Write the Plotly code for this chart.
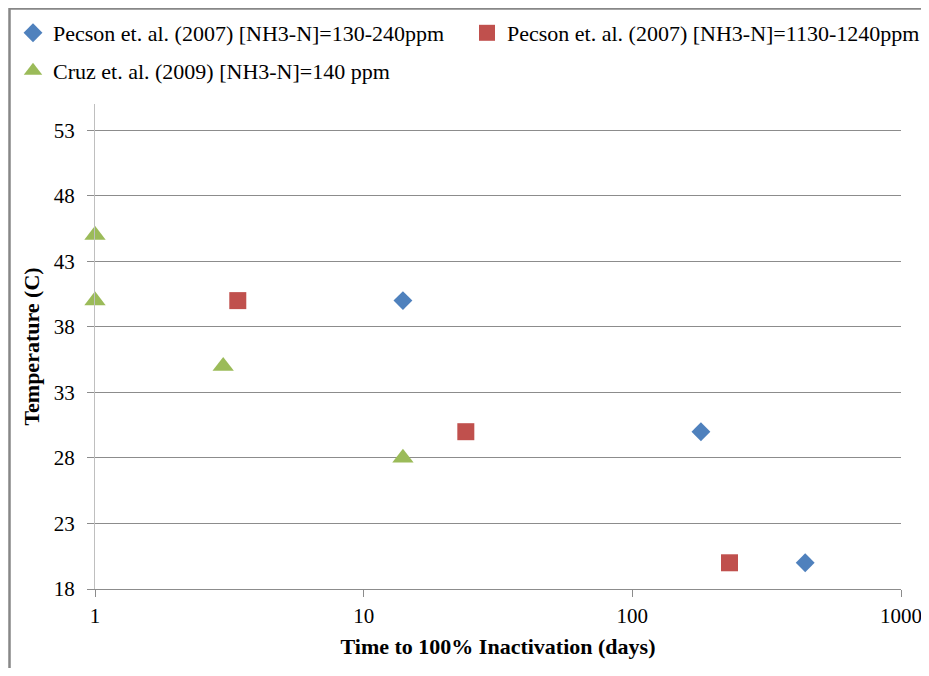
import plotly.graph_objects as go

# Data
blue_name = "Pecson et. al. (2007) [NH3-N]=130-240ppm"
blue_x = [14, 180, 440]
blue_y = [40, 30, 20]

red_name = "Pecson et. al. (2007) [NH3-N]=1130-1240ppm"
red_x = [3.4, 24, 230]
red_y = [40, 30, 20]

green_name = "Cruz et. al. (2009) [NH3-N]=140 ppm"
green_x = [1, 1, 3, 14]
green_y = [45, 40, 35, 28]

x_ticks = [1, 10, 100, 1000]
x_ticktext = ["1", "10", "100", "1000"]
y_ticks = [18, 23, 28, 33, 38, 43, 48, 53]

FONT = "Liberation Serif, Times New Roman, serif"

# the page body adds an 8px offset, so figure coordinates = screen - 8
W, H = 921, 660
L, R, T, B = 87, 28, 96, 79
pw, ph = W - L - R, H - T - B


def px_x(p):
    return (p - L) / pw


def px_y(p):
    return (H - B - p) / ph


fig = go.Figure()
fig.add_trace(go.Scatter(x=blue_x, y=blue_y, mode="markers", name=blue_name,
                         marker=dict(symbol="diamond", size=14.5, color="#4F81BD"),
                         cliponaxis=False, legend="legend"))
fig.add_trace(go.Scatter(x=red_x, y=red_y, mode="markers", name=red_name,
                         marker=dict(symbol="square", size=17, color="#C0504D"),
                         cliponaxis=False, legend="legend2"))
fig.add_trace(go.Scatter(x=green_x, y=green_y, mode="markers", name=green_name,
                         marker=dict(symbol="triangle-up", size=18.5, color="#9BBB59"),
                         cliponaxis=False, legend="legend3"))

leg_common = dict(orientation="h", xanchor="left", yanchor="middle",
                  font=dict(family=FONT, size=22, color="black"),
                  bgcolor="rgba(0,0,0,0)", borderwidth=0)

fig.update_layout(
    width=W, height=H,
    margin=dict(l=L, r=R, t=T, b=B, autoexpand=False),
    paper_bgcolor="white", plot_bgcolor="white",
    font=dict(family=FONT, size=21, color="black"),
    showlegend=True,
    legend=dict(x=px_x(5), y=px_y(25), **leg_common),
    legend2=dict(x=px_x(459), y=px_y(25), **leg_common),
    legend3=dict(x=px_x(5), y=px_y(63), **leg_common),
    xaxis=dict(type="log", range=[0, 3], tickvals=x_ticks, ticktext=x_ticktext,
               showgrid=False, showline=True, linecolor="#8C8C8C", linewidth=1,
               ticks="outside", ticklen=7, tickcolor="#8C8C8C", zeroline=False,
               ticklabelstandoff=1,
               tickfont=dict(family=FONT, size=21),
               title=dict(text="<b>Time to 100% Inactivation (days)</b>",
                          font=dict(family=FONT, size=22), standoff=11)),
    yaxis=dict(range=[18, 55], tickvals=y_ticks, showgrid=True, gridcolor="#8C8C8C",
               gridwidth=1, showline=True, linecolor="#BFBFBF", linewidth=1,
               ticks="outside", ticklen=7, tickcolor="#8C8C8C", zeroline=False,
               ticklabelstandoff=8,
               tickfont=dict(family=FONT, size=21),
               title=dict(text="<b>Temperature (C)</b>",
                          font=dict(family=FONT, size=22), standoff=8)),
    shapes=[dict(type="rect", xref="paper", yref="paper",
                 x0=px_x(1.5), x1=px_x(W + 20), y0=px_y(0.5), y1=px_y(H + 20),
                 line=dict(color="#878787", width=2.5), fillcolor="rgba(0,0,0,0)", layer="below")],
)

fig.write_html("out.html")
